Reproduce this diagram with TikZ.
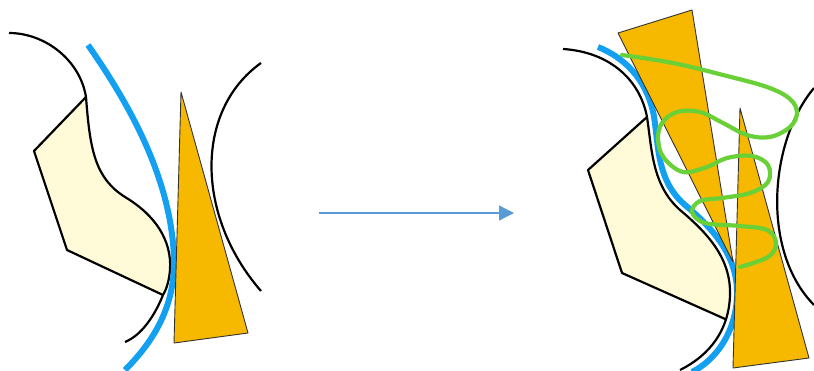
\documentclass[tikz,border=0pt]{standalone}
\usetikzlibrary{arrows.meta}
\definecolor{paleY}{RGB}{255,250,215}
\definecolor{gold}{RGB}{246,185,0}
\definecolor{skyB}{RGB}{20,160,240}
\definecolor{arrB}{RGB}{91,155,213}
\definecolor{grn}{RGB}{105,208,55}
\tikzset{
  edge/.style={draw=black,line width=2.2pt},
  blade/.style={fill=gold,draw=black!80,line width=0.9pt,line join=round},
  pale/.style={draw=black,line width=2.2pt,line join=round},
  tape/.style={draw=skyB,line width=6pt},
  loopline/.style={draw=grn,line width=4.2pt,line cap=round,line join=round},
}
\begin{document}
\begin{tikzpicture}[x=1pt,y=-1pt]
\useasboundingbox (0,0) rectangle (814,370);
% ---------- left panel ----------
\fill[paleY] (86,97) .. controls (90,150) and (95,178) .. (125,197)
  .. controls (155,215) and (172,240) .. (170,270)
  .. controls (169,282) and (166,290) .. (163,295)
  -- (67,250) -- (34,151) -- cycle;
\draw[pale] (163,295) -- (67,250) -- (34,151) -- (86,97);
\draw[edge] (9,33) .. controls (45,33) and (80,60) .. (86,97)
  .. controls (90,150) and (95,178) .. (125,197)
  .. controls (155,215) and (172,240) .. (170,270)
  .. controls (169,282) and (166,290) .. (163,295)
  .. controls (155,315) and (142,335) .. (125,342);
\draw[tape] (88,45) .. controls (130,105) and (172,180) .. (174,260)
  .. controls (175,310) and (150,345) .. (125,370);
\path[blade] (181,92) -- (174,343) -- (248,333) -- cycle;
\draw[edge] (261,63) .. controls (195,110) and (195,215) .. (261,291);
% ---------- arrow ----------
\coordinate (a1) at (319,213);
\coordinate (a2) at (514,213);
\draw[arrB,line width=1.3pt,-{Triangle[length=15pt,width=15pt]}] (a1) -- (a2);
% ---------- right panel ----------
\fill[paleY] (647,117) .. controls (652,150) and (652,185) .. (680,210)
  .. controls (710,235) and (731,260) .. (730,295)
  .. controls (729.75,303.75) and (728.4,311.9) .. (726,319.4)
  -- (622,273) -- (588,170) -- cycle;
\draw[pale] (726,319.4) -- (622,273) -- (588,170) -- (647,117);
\draw[edge] (563,49) .. controls (610,52) and (640,80) .. (647,117)
  .. controls (652,150) and (652,185) .. (680,210)
  .. controls (710,235) and (731,260) .. (730,295)
  .. controls (729,330) and (710,355) .. (680,370);
\draw[tape] (598,47) .. controls (630,60) and (648,85) .. (653.9,115.7)
  .. controls (658.9,148.7) and (657,180) .. (684.5,204.6)
  .. controls (714.5,229.6) and (738,257) .. (737,295.2)
  .. controls (736,332) and (716,360) .. (692,372);
\path[blade] (618,33) -- (692,10) -- (733,262) -- cycle;
\path[blade] (740,108) -- (733,368) -- (809,358) -- cycle;
\draw[edge] (814,88) .. controls (770,140) and (760,250) .. (814,305);
\draw[loopline] plot[smooth,tension=0.6] coordinates {(622,55) (673,63) (723,75) (767,87) (790,99) (797,113) (790,127) (770,137) (747,135) (723,123) (700,112) (677,112) (662,123) (658,140) (664,158) (683,172) (707,167) (727,158) (752,156) (768,165) (768,182) (750,193) (722,198) (700,201) (692,212) (705,223) (740,226) (767,230) (776,243) (768,257) (740,267)};
\end{tikzpicture}
\end{document}
